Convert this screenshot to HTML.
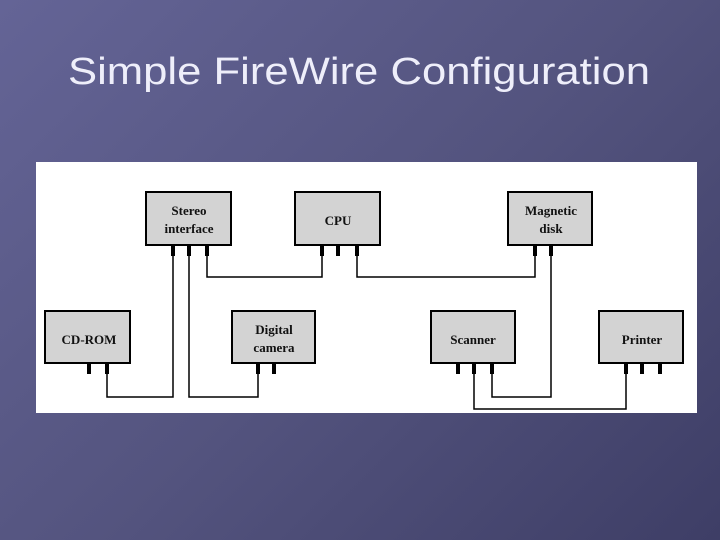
<!DOCTYPE html>
<html><head><meta charset="utf-8"><style>
html,body{margin:0;padding:0;width:720px;height:540px;overflow:hidden}
body{background:linear-gradient(135deg,#646496 0%,#54547f 50%,#3e3e66 100%)}
</style></head><body>
<svg width="720" height="540" xmlns="http://www.w3.org/2000/svg" style="position:absolute;left:0;top:0">
<text x="359" y="84" text-anchor="middle" font-family="Liberation Sans, sans-serif" font-size="38" fill="#eeeefa" textLength="582" lengthAdjust="spacingAndGlyphs">Simple FireWire Configuration</text>
<rect x="36" y="162" width="661" height="251" fill="#ffffff"/>
<g fill="#d3d3d3" stroke="#000" stroke-width="2">
<rect x="146" y="192" width="85" height="53"/>
<rect x="295" y="192" width="85" height="53"/>
<rect x="508" y="192" width="84" height="53"/>
<rect x="45" y="311" width="85" height="52"/>
<rect x="232" y="311" width="83" height="52"/>
<rect x="431" y="311" width="84" height="52"/>
<rect x="599" y="311" width="84" height="52"/>
</g>
<g fill="#000">
<rect x="171" y="245" width="4" height="11"/><rect x="187" y="245" width="4" height="11"/><rect x="205" y="245" width="4" height="11"/>
<rect x="320" y="245" width="4" height="11"/><rect x="336" y="245" width="4" height="11"/><rect x="355" y="245" width="4" height="11"/>
<rect x="533" y="245" width="4" height="11"/><rect x="549" y="245" width="4" height="11"/>
<rect x="87" y="363" width="4" height="11"/><rect x="105" y="363" width="4" height="11"/>
<rect x="256" y="363" width="4" height="11"/><rect x="272" y="363" width="4" height="11"/>
<rect x="456" y="363" width="4" height="11"/><rect x="472" y="363" width="4" height="11"/><rect x="490" y="363" width="4" height="11"/>
<rect x="624" y="363" width="4" height="11"/><rect x="640" y="363" width="4" height="11"/><rect x="658" y="363" width="4" height="11"/>
</g>
<g fill="none" stroke="#000" stroke-width="1.5">
<polyline points="207,256 207,277 322,277 322,256"/>
<polyline points="357,256 357,277 535,277 535,256"/>
<polyline points="107,374 107,397 173,397 173,256"/>
<polyline points="189,256 189,397 258,397 258,374"/>
<polyline points="492,374 492,397 551,397 551,256"/>
<polyline points="474,374 474,409 626,409 626,374"/>
</g>
<g font-family="Liberation Serif, serif" font-weight="bold" font-size="13" fill="#111" text-anchor="middle">
<text x="189" y="215">Stereo</text><text x="189" y="233">interface</text>
<text x="338" y="225">CPU</text>
<text x="551" y="215">Magnetic</text><text x="551" y="233">disk</text>
<text x="89" y="344">CD-ROM</text>
<text x="274" y="334">Digital</text><text x="274" y="352">camera</text>
<text x="473" y="344">Scanner</text>
<text x="642" y="344">Printer</text>
</g>
</svg>
</body></html>
